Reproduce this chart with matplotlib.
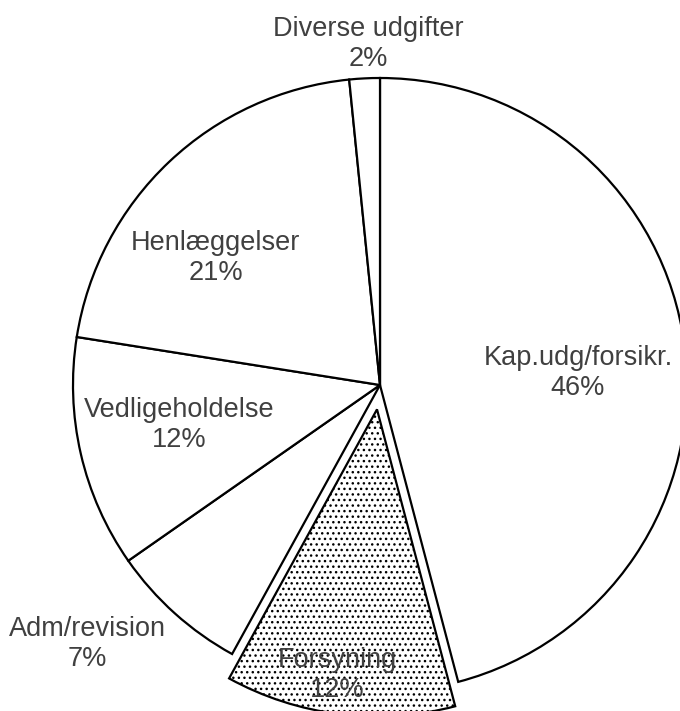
import matplotlib
matplotlib.use('Agg')
import matplotlib.pyplot as plt

# data (share of expenses, %)
categories = ['Kap.udg/forsikr.', 'Forsyning', 'Adm/revision',
              'Vedligeholdelse', 'Henlæggelser', 'Diverse udgifter']
values = [45.9, 12.1, 7.3, 12.2, 20.9, 1.6]
explode = [0, 0.08, 0, 0, 0, 0]

# label centres in pie units (radius = 1)
label_pos = [(0.645, 0.04), (-0.138, -0.945), (-0.954, -0.844),
             (-0.655, -0.13), (-0.536, 0.414), (-0.037, 1.11)]

plt.rcParams['font.family'] = ['Liberation Sans', 'DejaVu Sans']
plt.rcParams['hatch.linewidth'] = 1.0

fig = plt.figure(figsize=(6.8, 7.11), dpi=100)
ax = fig.add_axes([0, 0, 1, 1])

wedges, _ = ax.pie(values, explode=explode, startangle=90, counterclock=False,
                   colors=['white'] * len(values),
                   wedgeprops=dict(edgecolor='black', linewidth=1.6))
wedges[1].set_hatch('...')

total = sum(values)
for name, v, (x, y) in zip(categories, values, label_pos):
    ax.text(x, y, '%s\n%d%%' % (name, round(v / total * 100)),
            ha='center', va='center', fontsize=19.5, color='#404040',
            linespacing=1.2)

ax.set_xlim(-380 / 307, 300 / 307)
ax.set_ylim((385 - 711) / 307, 385 / 307)
ax.set_aspect('auto')
ax.axis('off')

fig.savefig('out.png', dpi=100)
